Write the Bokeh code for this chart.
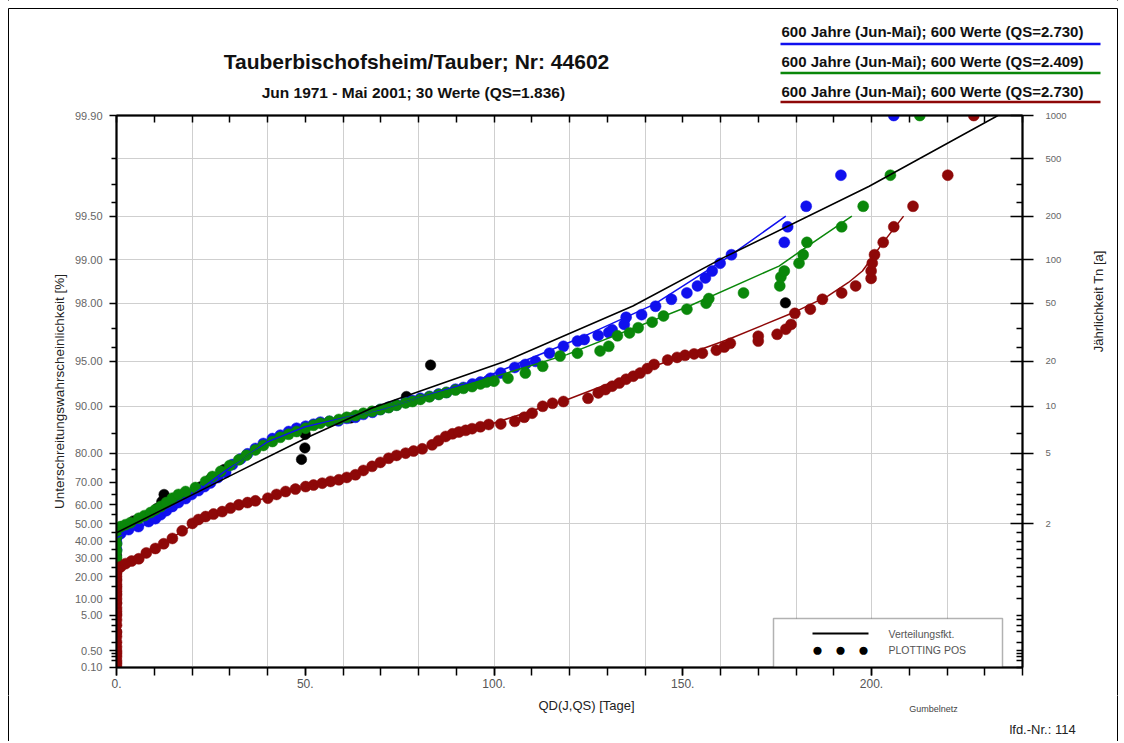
import numpy as np
from bokeh.plotting import figure
from bokeh.layouts import column, row
from bokeh.models import (Range1d, LinearAxis, FixedTicker, Label, BoxAnnotation, Arrow,
                          ColumnDataSource)
from bokeh.core.properties import value
from bokeh.embed import file_html
from bokeh.resources import INLINE

# ---------------- data (QD in days, P = Unterschreitungswahrscheinlichkeit in %) -------------
blue_qd = [0, 0, 0, 1.1, 3.2, 5.8, 8.5, 10.3, 11.7, 13.2, 14.8, 16.4, 18.3, 19.9, 21.7, 23.3,
           24.9, 26.8, 28.9, 30.7, 32.9, 34.7, 36.8, 38.9, 41.3, 43.4, 45.6, 47.7, 50.1, 52.2,
           54.0, 56.4, 58.8, 61.0, 63.3, 65.4, 67.8, 69.9, 72.1, 74.2, 76.6, 78.4, 80.5, 82.9,
           85.3, 87.4, 89.8, 91.9, 94.3, 96.4, 98.6, 99.1, 101.8, 105.5, 108.3, 111.0, 114.7,
           118.4, 122.1, 123.9, 127.6, 130.4, 131.3, 134.5, 135.0, 139.1, 142.8, 147.0, 151.1,
           153.9, 156.0, 157.8, 159.9, 162.9, 176.9, 177.8, 182.7, 191.9, 205.9]
blue_p = [35.0, 39.2, 43.3, 44.5, 46.8, 48.5, 51.3, 52.9, 55.0, 57.1, 59.2, 61.1, 63.0, 64.9,
          66.6, 68.3, 69.8, 71.9, 73.8, 76.5, 78.3, 79.8, 81.3, 82.6, 83.8, 84.6, 85.4, 86.1,
          86.5, 86.9, 87.3, 87.45, 87.55, 88.0, 88.2, 88.7, 89.05, 89.5, 89.85, 90.2, 90.6,
          90.85, 91.15, 91.4, 91.7, 91.9, 92.3, 92.5, 92.9, 93.1, 93.3, 93.5, 94.0, 94.5, 94.75,
          95.0, 95.6, 96.05, 96.36, 96.45, 96.67, 96.82, 96.95, 97.2, 97.5, 97.6, 97.9, 98.12,
          98.3, 98.48, 98.66, 98.8, 98.94, 99.074, 99.24, 99.407, 99.573, 99.74, 99.9]

green_qd = [0, 0, 0, 0, 0, 0, 1.1, 2.4, 3.7, 5.9, 7.4, 9.0, 10.3, 11.7, 13.2, 14.8, 16.4, 18.3,
            20.9, 23.6, 25.4, 27.6, 30.0, 32.4, 34.4, 36.8, 38.9, 41.3, 43.4, 45.6, 47.7, 50.1,
            52.2, 54.0, 56.4, 58.9, 61.0, 63.3, 65.4, 67.7, 69.9, 72.1, 74.2, 76.6, 78.4, 80.5,
            82.9, 85.4, 87.4, 89.8, 91.9, 94.2, 96.4, 98.0, 100.0, 103.7, 108.3, 112.9, 117.5,
            122.1, 128.1, 130.4, 132.7, 135.9, 138.2, 141.9, 144.9, 151.1, 156.2, 156.9, 166.1,
            175.7, 176.0, 176.9, 180.8, 181.9, 182.9, 192.1, 197.8, 205.0, 212.8]
green_p = [26.2, 30.3, 34.4, 38.6, 42.8, 46.8, 48.5, 49.6, 50.7, 53.1, 54.5, 56.1, 57.6, 59.2,
           61.1, 63.2, 64.9, 66.2, 67.9, 70.4, 72.3, 74.2, 76.2, 78.0, 79.4, 80.9, 82.1, 83.1,
           84.1, 84.8, 85.4, 86.1, 86.7, 87.1, 87.45, 87.8, 88.2, 88.5, 88.9, 89.2, 89.5, 89.8,
           90.15, 90.5, 90.7, 91.0, 91.35, 91.65, 91.9, 92.2, 92.4, 92.6, 92.9, 93.1, 93.2, 93.5,
           94.0, 94.6, 95.4, 95.6, 95.75, 96.05, 96.65, 96.8, 97.05, 97.3, 97.55, 97.8, 98.0,
           98.14, 98.3, 98.48, 98.68, 98.8, 98.94, 99.074, 99.24, 99.407, 99.573, 99.74, 99.9]

# red: years with QD = 0 (vertical stack), then the rising part
red_zero_p = [0.1, 0.15, 0.2, 0.3, 0.4, 0.5, 0.7, 1.0, 1.5, 2.0, 3.0, 4.0, 5.0, 6.0, 7.0, 8.5,
              10.0, 11.5, 13.0, 14.5, 16.0, 18.0, 20.0, 22.0]
red_qd = [0.2, 1.1, 2.4, 4.0, 5.9, 7.9, 10.3, 12.5, 14.8, 17.4, 20.1, 21.7, 23.6, 25.7, 28.0,
          30.2, 32.4, 34.7, 36.8, 40.1, 42.4, 44.8, 47.4, 50.1, 52.2, 54.5, 56.7, 58.9, 61.0,
          63.3, 65.4, 67.7, 69.9, 72.1, 74.2, 76.6, 78.7, 81.0, 83.6, 85.3, 87.2, 89.0, 90.7,
          92.5, 94.2, 96.4, 98.6, 101.8, 105.5, 108.0, 110.1, 112.9, 115.5, 118.4, 124.9, 127.6,
          129.5, 131.3, 133.2, 135.0, 136.9, 138.7, 140.6, 142.4, 146.0, 148.5, 150.6, 153.0,
          155.2, 158.9, 161.0, 162.6, 170.0, 170.0, 175.0, 177.3, 178.7, 179.7, 183.8, 187.0,
          192.1, 195.8, 199.9, 199.9, 200.2, 200.8, 203.1, 205.9, 211.0, 220.2, 227.1]
red_p = [24.2, 25.2, 27.0, 28.5, 29.8, 33.2, 35.8, 38.6, 41.7, 46.1, 50.3, 52.4, 54.0, 55.3,
         56.6, 58.4, 60.0, 61.1, 61.95, 63.2, 64.9, 66.2, 67.25, 68.3, 68.95, 69.7, 70.4, 71.05,
         71.95, 72.95, 74.5, 75.9, 77.2, 78.5, 79.35, 80.0, 80.6, 81.2, 82.25, 83.3, 84.3, 84.9,
         85.3, 85.65, 86.0, 86.4, 86.85, 86.95, 87.45, 88.2, 88.9, 90.0, 90.45, 90.7, 91.15,
         91.85, 92.25, 92.65, 93.0, 93.4, 93.7, 94.0, 94.4, 94.75, 95.1, 95.3, 95.45, 95.55,
         95.6, 95.8, 96.0, 96.23, 96.36, 96.63, 96.73, 96.98, 97.2, 97.65, 97.8, 98.12, 98.3,
         98.48, 98.65, 98.8, 98.94, 99.074, 99.24, 99.407, 99.573, 99.74, 99.9]

# 30 observed values Jun 1971 - Mai 2001 (plotting positions)
obs_qd = [0, 0, 0, 0, 0, 0, 0, 0, 0, 0, 0, 0, 0, 0.5, 1.5, 4.5, 9.9, 10.8, 12.0, 12.6, 22.3,
          25.0, 28.5, 49.0, 49.9, 50.0, 62.0, 76.8, 83.2, 177.2]
obs_p = [1.99, 5.30, 8.61, 11.92, 15.23, 18.54, 21.85, 25.17, 28.48, 31.79, 35.10, 38.41, 41.72,
         45.03, 48.34, 51.66, 54.97, 58.28, 61.59, 64.90, 68.21, 71.52, 74.83, 78.15, 81.46,
         84.77, 88.08, 91.39, 94.70, 98.01]

# fitted distribution functions
fit_obs_qd = [0, 30.6, 50.1, 67.7, 85.4, 103.0, 136.8, 160.8, 199.4, 233.5]
fit_obs_p = [45.0, 72.9, 83.9, 89.74, 92.83, 95.01, 97.91, 99.03, 99.69, 99.90]
fit_blue_qd = [0, 10, 20, 30, 40, 50, 70, 96.3, 123.9, 142.4, 160.8, 166.3, 177.3]
fit_blue_p = [42, 52, 64.5, 75.5, 83, 86.4, 89.5, 93.4, 96.63, 97.96, 98.99, 99.2, 99.5]
fit_green_qd = [0, 10, 20, 30, 40, 50, 70, 96.3, 119.3, 151.6, 175.5, 183.3, 194.8]
fit_green_p = [47, 56, 67, 76, 82.5, 86, 89.6, 93.2, 95.5, 97.9, 98.89, 99.2, 99.5]
fit_red_qd = [0, 10, 20, 35, 50, 70, 90, 110, 119.3, 142.4, 162, 179.2, 188.4, 193.9, 197.6,
              203.1, 208.5]
fit_red_p = [24, 36, 49, 61, 68, 76.5, 84.5, 89.3, 90.95, 94.6, 96.45, 97.67, 98.21, 98.56,
             98.8, 99.24, 99.5]

# axes
p_major = [99.9, 99.5, 99.0, 98.0, 95.0, 90.0, 80.0, 70.0, 60.0, 50.0, 40.0, 30.0, 20.0, 10.0,
           5.0, 0.5, 0.1]
p_minor = [99.8, 99.7, 99.6, 97.0, 96.0, 85.0, 75.0, 65.0, 55.0, 45.0, 35.0, 25.0, 15.0, 4.0,
           3.0, 2.0, 1.0, 0.4, 0.3, 0.2]
tn_major = [1000, 500, 200, 100, 50, 20, 10, 5, 2]
x_major = [0, 50, 100, 150, 200]
x_labels = ["0.", "50.", "100.", "150.", "200."]

legend_texts = ["600 Jahre (Jun-Mai); 600 Werte (QS=2.730)",
                "600 Jahre (Jun-Mai); 600 Werte (QS=2.409)",
                "600 Jahre (Jun-Mai); 600 Werte (QS=2.730)"]

BLUE, GREEN, RED = "#1010ee", "#0a870a", "#8e0808"
FONT = "Liberation Sans"


def gum(pct):
    a = np.asarray(pct, dtype=float) / 100.0
    return [round(float(v), 9) for v in -np.log(-np.log(a))]


# ---------------- page geometry ----------------
TOTW = 1122
HEAD_H = 107                    # header: page y 0..107
MID_H = 588                     # middle row: page y 107..695
FOOT_H = 46                     # footer: page y 695..741
RSTRIP_W = 42
MAIN_W = TOTW - RSTRIP_W        # main figure: page x 0..1080
FL, FR, FT, FB = 116, 1022, 115, 667     # page coordinates of the plot frame
SL, SR, ST = 8, 1117, 8                  # outer sheet border


def blank(w, h, x0, y0, fill="white"):
    f = figure(width=w, height=h, output_backend="svg", toolbar_location=None,
               x_range=Range1d(x0, x0 + w), y_range=Range1d(y0 + h, y0),
               x_axis_location=None, y_axis_location=None,
               min_border=0, min_border_left=0, min_border_right=0,
               min_border_top=0, min_border_bottom=0,
               background_fill_color=fill, border_fill_color=fill)
    f.outline_line_color = None
    f.grid.visible = False
    return f


def ptext(f, X, Y, text, size, style="normal", align="center", color="#111111", angle=0.0):
    f.text(x=[X], y=[Y], text=[text], text_font=value(FONT), text_font_size=value(size),
           text_font_style=style, text_align=align, text_baseline="middle",
           text_color=color, angle=angle)


# ---------------- header: title + series legend ----------------
head = blank(TOTW, HEAD_H, 0, 0)
ptext(head, 416, 61, "Tauberbischofsheim/Tauber; Nr: 44602", "21px", "bold")
ptext(head, 415, 92, "Jun 1971 - Mai 2001;  30 Werte (QS=1.836)", "15.5px", "bold")
for i, (txt, col) in enumerate(zip(legend_texts, [BLUE, GREEN, RED])):
    ptext(head, 781, 31 + 30 * i, txt, "15px", "bold", align="left")
    head.segment(x0=[780], y0=[43.5 + 29 * i], x1=[1100], y1=[43.5 + 29 * i],
                 line_color=col, line_width=2.5)
head.segment(x0=[SL, SL, SR], y0=[ST, ST, ST], x1=[SR, SL, SR], y1=[ST, HEAD_H, HEAD_H],
             line_color="black", line_width=1)

# ---------------- right strip (its frame is aligned with the plot frame) -------------
rstrip = blank(RSTRIP_W, MID_H, MAIN_W, FT, fill=None)
rstrip.y_range = Range1d(FB, FT)
ptext(rstrip, 1098, 299, "Jährlichkeit  Tn [a]", "13px", color="#222222", angle=np.pi / 2)

# ---------------- footer ----------------
foot = blank(TOTW, FOOT_H, 0, HEAD_H + MID_H)
ptext(foot, 586, 705, "QD(J,QS) [Tage]", "13px", color="#222222")
ptext(foot, 933, 708, "Gumbelnetz", "9px", color="#444444")
ptext(foot, 1042, 729, "lfd.-Nr.: 114", "13px", color="#222222")
foot.segment(x0=[SL, SR], y0=[HEAD_H + MID_H] * 2, x1=[SL, SR],
             y1=[HEAD_H + MID_H + FOOT_H] * 2, line_color="black", line_width=1)

# ---------------- main Gumbel plot ----------------
ylo, yhi = gum([0.1])[0], gum([99.9])[0]
p = figure(width=MAIN_W, height=MID_H, output_backend="svg", toolbar_location=None,
           x_range=Range1d(0, 240), y_range=Range1d(ylo - 1e-6, yhi + 1e-6),
           min_border_left=FL, min_border_right=MAIN_W - FR,
           min_border_top=FT - HEAD_H, min_border_bottom=HEAD_H + MID_H - FB,
           background_fill_color="white", border_fill_color=None)
p.outline_line_color = "black"
p.outline_line_width = 1.5

p.xgrid[0].ticker = FixedTicker(ticks=list(range(0, 241, 20)))
p.ygrid[0].ticker = FixedTicker(ticks=gum([100 * (1 - 1 / t) for t in tn_major[1:]]))
for g in (p.xgrid[0], p.ygrid[0]):
    g.grid_line_color = "#cfcfcf"
    g.grid_line_width = 1

xa = p.xaxis[0]
xa.ticker = FixedTicker(ticks=x_major, minor_ticks=list(range(0, 241, 10)))
xa.major_label_overrides = dict(zip(x_major, x_labels))
xa.major_tick_out = 8
xa.major_tick_in = 0
xa.minor_tick_out = 8
xa.minor_tick_in = 0
xa.major_label_standoff = 3
xa.major_label_text_font = FONT
xa.major_label_text_font_size = "12px"
xa.major_label_text_color = "#555555"

ta = LinearAxis(ticker=FixedTicker(ticks=[], minor_ticks=list(range(0, 241, 10))),
                minor_tick_in=7, minor_tick_out=0, major_tick_in=0, major_tick_out=0)
p.add_layout(ta, "above")

ya = p.yaxis[0]
ya.ticker = FixedTicker(ticks=gum(p_major), minor_ticks=gum(p_minor))
ya.major_label_overrides = dict(zip(gum(p_major), ["%.2f" % v for v in p_major]))
ya.major_tick_out = 7
ya.major_tick_in = 0
ya.minor_tick_out = 5
ya.minor_tick_in = 0
ya.major_label_standoff = 7
ya.major_label_text_font = FONT
ya.major_label_text_font_size = "11px"
ya.major_label_text_color = "#666666"
ya.axis_label = "Unterschreitungswahrscheinlichkeit [%]"
ya.axis_label_text_font = FONT
ya.axis_label_text_font_size = "13.5px"
ya.axis_label_text_font_style = "normal"
ya.axis_label_text_color = "#222222"
ya.axis_label_standoff = 5

tn_p = [100 * (1 - 1 / t) for t in tn_major]
right_minor = [v for v in p_major + p_minor if all(abs(v - q) > 1e-6 for q in tn_p)]
ra = LinearAxis(ticker=FixedTicker(ticks=gum(tn_p), minor_ticks=gum(right_minor)))
ra.major_label_overrides = dict(zip(gum(tn_p), [str(t) for t in tn_major]))
ra.major_tick_in = 12
ra.major_tick_out = 11
ra.minor_tick_in = 6
ra.minor_tick_out = 0
ra.major_label_standoff = 12
ra.major_label_text_font = FONT
ra.major_label_text_font_size = "9.5px"
ra.major_label_text_color = "#666666"
p.add_layout(ra, "right")

for ax in (xa, ya, ta, ra):
    ax.axis_line_width = 2
    ax.axis_line_color = "black"
    ax.major_tick_line_width = 1.5
    ax.minor_tick_line_width = 1.5
    ax.major_tick_line_color = "black"
    ax.minor_tick_line_color = "black"


def scat(qd, pc, color, size):
    n = min(len(qd), len(pc))
    src = ColumnDataSource(dict(x=list(qd[:n]), y=gum(pc[:n])))
    p.scatter("x", "y", source=src, marker="circle", size=size,
              fill_color=color, line_color=color, line_width=0.5)


def fline(qd, pc, color, width):
    n = min(len(qd), len(pc))
    p.line(list(qd[:n]), gum(pc[:n]), line_color=color, line_width=width)


scat(obs_qd, obs_p, "black", 10.5)
scat(blue_qd, blue_p, BLUE, 11)
scat(green_qd, green_p, GREEN, 11)
scat([0.0] * len(red_zero_p) + red_qd, red_zero_p + red_p, RED, 11)

fline(fit_blue_qd, fit_blue_p, BLUE, 1.5)
fline(fit_green_qd, fit_green_p, GREEN, 1.5)
fline(fit_red_qd, fit_red_p, RED, 1.5)
fline(fit_obs_qd, fit_obs_p, "black", 1.6)

# ---- symbol legend box (inside the plot frame, frame-relative screen units)
p.add_layout(BoxAnnotation(left=773 - FL, right=1002 - FL, bottom=0, top=FB - 618,
                           left_units="screen", right_units="screen", bottom_units="screen",
                           top_units="screen", fill_color="white", fill_alpha=1.0,
                           line_color="black", line_width=1.5, level="underlay"))
p.add_layout(Arrow(end=None, start=None, x_start=812 - FL, y_start=FB - 633,
                   x_end=868 - FL, y_end=FB - 633, start_units="screen", end_units="screen",
                   line_color="black", line_width=2))


def flab(X, Y, text, size, align="center", color="#111111"):
    p.add_layout(Label(x=X - FL, y=FB - Y, x_units="screen", y_units="screen", text=text,
                       text_font=FONT, text_font_size=size, text_align=align,
                       text_baseline="middle", text_color=color))


for X in (817, 840, 863):
    flab(X, 649, "●", "19px", color="black")
flab(888, 633, "Verteilungsfkt.", "10.5px", align="left", color="#555555")
flab(888, 649, "PLOTTING POS", "10.5px", align="left", color="#555555")

layout = column(head, row(p, rstrip), foot)
# sheet border on the left and right of the middle section (figures there are transparent)
layout.styles = {
    "background": ("linear-gradient(#000, #000) %dpx 0px / 1px 100%% no-repeat, "
                   "linear-gradient(#000, #000) %dpx 0px / 1px 100%% no-repeat, #fff")
                  % (SL, SR)
}
open("out.html", "w").write(file_html(layout, INLINE))
